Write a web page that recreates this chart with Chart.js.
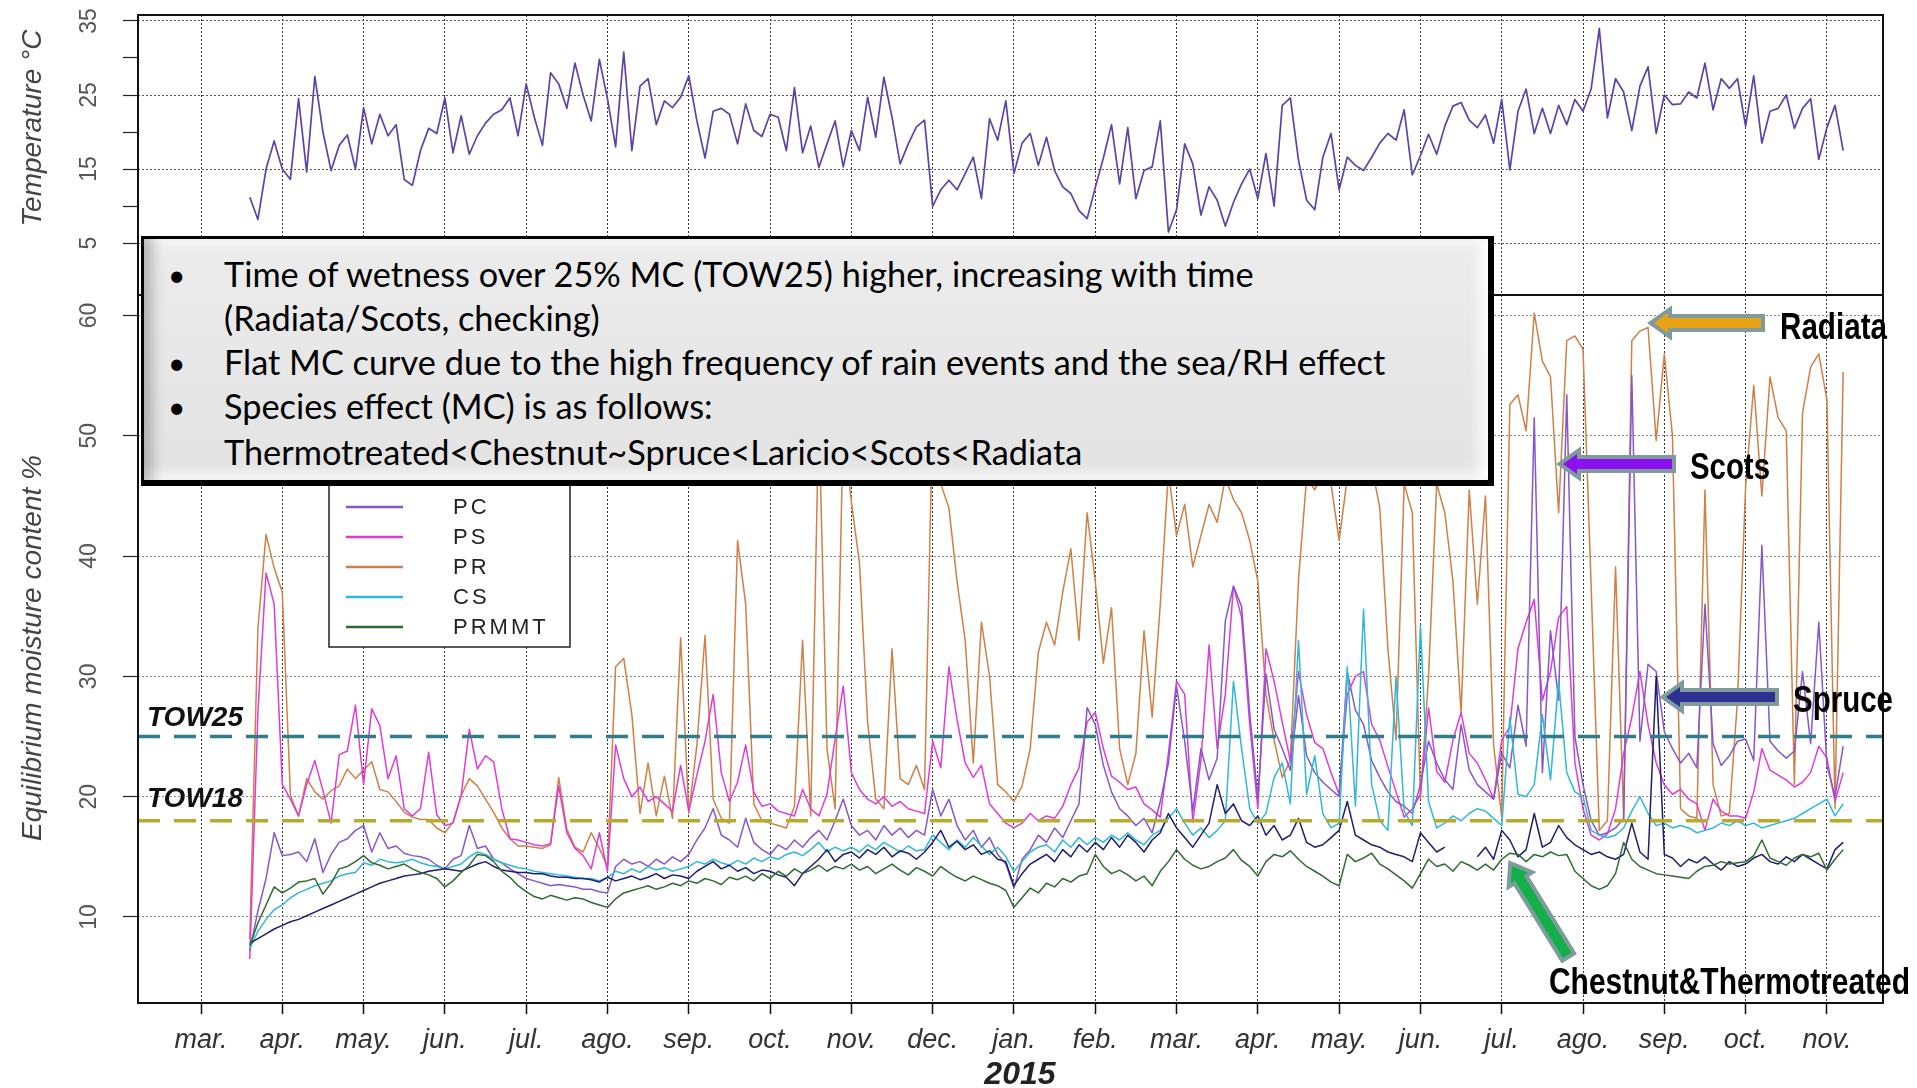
<!DOCTYPE html>
<html>
<head>
<meta charset="utf-8">
<title>Temperature and equilibrium moisture content</title>
<script src="https://cdn.jsdelivr.net/npm/chart.js@4.4.1/dist/chart.umd.min.js"></script>
<style>
  html, body { margin: 0; padding: 0; background: #fff; }
  body { width: 1917px; height: 1088px; position: relative; overflow: hidden; }
  canvas { position: absolute; left: 0; top: 0; }
  #note {
    position: absolute; left: 141px; top: 236px; width: 1353px; height: 250px;
    box-sizing: border-box;
    border: 3px solid #000; border-right-width: 6px; border-bottom-width: 6px;
    background: linear-gradient(180deg, #ececec 0%, #e3e3e3 100%);
    box-shadow: inset 16px 0 14px -8px rgba(0,0,0,0.25),
                inset 0 12px 10px -8px rgba(255,255,255,0.9),
                inset -18px -16px 14px -10px rgba(255,255,255,0.95);
  }
  .ln { position: absolute; left: 80px; font-family: Lato, "Open Sans", sans-serif; font-size: 34.3px;
        line-height: 44px; color: #000; white-space: nowrap; }
  .dot { position: absolute; left: -56px; font-size: 30px; }
  svg { position: absolute; left: 0; top: 0; }
  .tag { font-family: "Liberation Sans", Arial, sans-serif;
         font-weight: bold; font-size: 37px; fill: #000; }
</style>
</head>
<body>
<canvas id="tempChart" width="1917" height="300"></canvas>
<canvas id="mcChart" width="1917" height="1088"></canvas>

<div id="note">
  <div class="ln" style="top:13px"><span class="dot">•</span>Time of wetness over 25% MC (TOW25) higher, increasing with time</div>
  <div class="ln" style="top:57px">(Radiata/Scots, checking)</div>
  <div class="ln" style="top:101px"><span class="dot">•</span>Flat MC curve due to the high frequency of rain events and the sea/RH effect</div>
  <div class="ln" style="top:145px"><span class="dot">•</span>Species effect (MC) is as follows:</div>
  <div class="ln" style="top:191px">Thermotreated&lt;Chestnut~Spruce&lt;Laricio&lt;Scots&lt;Radiata</div>
</div>

<svg width="1917" height="1088">
  <g stroke="#7f9b9b" stroke-width="8" stroke-linejoin="miter" paint-order="stroke">
    <polygon transform="translate(1654,323)" points="0,0 14,-10 14,-5 107,-5 107,5 14,5 14,10" fill="#e8a317"/>
    <polygon transform="translate(1563,464)" points="0,0 14,-10 14,-5 109,-5 109,5 14,5 14,10" fill="#8b10f2"/>
    <polygon transform="translate(1666,697)" points="0,0 14,-10 14,-5 109,-5 109,5 14,5 14,10" fill="#2e3192"/>
    <polygon transform="translate(1512,866) rotate(58.3)" points="0,0 14,-10 14,-5 105,-5 105,5 14,5 14,10" fill="#13b04a"/>
  </g>
  <text class="tag" x="1780" y="339" textLength="107" lengthAdjust="spacingAndGlyphs">Radiata</text>
  <text class="tag" x="1690" y="479" textLength="80" lengthAdjust="spacingAndGlyphs">Scots</text>
  <text class="tag" x="1793" y="712" textLength="100" lengthAdjust="spacingAndGlyphs">Spruce</text>
  <text class="tag" x="1549" y="994" textLength="361" lengthAdjust="spacingAndGlyphs">Chestnut&amp;Thermotreated</text>
</svg>

<script>
// Eje x en meses: 0 = marzo 2014, 20 = noviembre 2015. Un dato cada 0.1 mes desde 0.6
const monthLabels = ['mar.', 'apr.', 'may.', 'jun.', 'jul.', 'ago.', 'sep.', 'oct.', 'nov.', 'dec.',
  'jan.', 'feb.', 'mar.', 'apr.', 'may.', 'jun.', 'jul.', 'ago.', 'sep.', 'oct.', 'nov.'];
const yearLabel = '2015';
const yearAt = 10;
const firstTenth = 6;

const tempTicks = [5, 15, 25, 35];
const mcTicks = [10, 20, 30, 40, 50, 60];
const towLevels = [25, 18];

// Temperatura (°C)
const temperature = [11.2, 8.2, 15.0, 18.8,
  15.0, 13.6, 24.5, 14.6, 27.5, 20.0, 14.8, 18.2, 19.6, 15.0,
  23.3, 18.4, 22.4, 19.5, 21.0, 13.6, 12.8, 17.5, 20.5, 19.8,
  24.6, 17.2, 22.2, 17.0, 19.5, 21.2, 22.4, 23.0, 24.6, 19.5,
  26.5, 22.0, 18.2, 28.0, 26.5, 23.2, 29.3, 25.0, 21.5, 29.8,
  24.5, 18.0, 30.8, 17.5, 26.2, 27.2, 21.0, 24.2, 23.3, 24.7,
  27.6, 21.5, 16.5, 22.8, 23.2, 22.4, 18.4, 23.8, 20.2, 19.4,
  22.4, 22.0, 17.5, 26.0, 17.2, 20.8, 15.2, 18.4, 21.5, 15.3,
  20.2, 17.5, 24.7, 19.3, 27.4, 22.0, 15.7, 18.4, 20.7, 21.6,
  10.0, 12.2, 13.5, 12.2, 14.4, 16.6, 11.0, 21.8, 18.9, 24.2,
  14.4, 18.5, 19.8, 15.5, 19.3, 14.8, 12.6, 11.7, 9.4, 8.3,
  12.5, 16.5, 21.0, 13.0, 20.6, 11.0, 14.8, 15.3, 21.5, 6.5,
  9.5, 18.4, 15.7, 8.8, 12.6, 10.8, 7.3, 10.5, 13.0, 15.0,
  11.0, 17.1, 10.0, 23.6, 24.6, 16.2, 10.8, 9.5, 16.6, 19.8,
  12.2, 16.6, 15.5, 14.8, 16.6, 18.5, 19.8, 18.9, 23.0, 14.2,
  16.8, 19.7, 17.0, 20.8, 23.5, 24.0, 21.6, 20.6, 22.3, 18.5,
  24.4, 14.9, 22.8, 25.8, 19.8, 23.2, 19.8, 23.6, 21.0, 24.4,
  22.8, 25.8, 34.0, 21.9, 27.2, 25.4, 20.2, 26.2, 28.8, 19.8,
  25.0, 23.7, 23.8, 25.4, 24.6, 29.3, 23.0, 27.2, 25.9, 27.2,
  20.8, 27.6, 18.5, 22.8, 23.2, 25.0, 20.5, 23.2, 24.5, 16.3,
  20.6, 23.6, 17.5];

// Contenido de humedad de equilibrio (%) por especie
const pa = [7.8, 8.2, 8.6, 9.0,
  9.3, 9.6, 9.8, 10.1, 10.4, 10.7, 11.0, 11.3, 11.6, 11.9,
  12.2, 12.5, 12.8, 13.0, 13.2, 13.4, 13.5, 13.6, 13.8, 13.9,
  14.0, 13.9, 13.8, 14.1, 14.4, 14.6, 14.2, 13.9, 13.8, 13.7,
  13.7, 13.6, 13.6, 13.4, 13.3, 13.3, 13.2, 13.2, 13.1, 12.9,
  13.3, 13.0, 13.2, 13.4, 13.1, 13.3, 13.6, 13.2, 13.5, 13.4,
  13.2, 13.8, 14.2, 14.6, 14.0, 14.3, 13.8, 14.1, 13.6, 13.9,
  13.8, 13.5, 13.3, 12.6, 13.6, 14.2, 14.8, 15.6, 14.6, 15.2,
  15.4, 14.9, 15.6, 15.2, 15.8, 15.0, 15.5, 15.3, 14.8, 15.4,
  16.2, 17.2, 15.8, 16.3, 15.6, 16.0, 15.2, 15.5, 14.8, 14.6,
  12.6, 13.6, 14.4, 14.8, 15.2, 14.6, 15.6, 15.0, 16.0, 15.4,
  16.2, 15.6, 16.6, 15.8, 16.8, 16.2, 15.4, 16.4, 17.0, 18.6,
  17.4, 16.6, 15.8, 16.8, 17.8, 21.0, 18.6, 19.4, 18.0, 17.6,
  18.4, 16.8, 17.6, 16.4, 16.8, 18.2, 16.2, 15.8, 16.0, 16.6,
  17.2, 19.6, 16.8, 16.4, 16.0, 15.8, 15.4, 15.2, 15.0, 14.6,
  17.0, 16.2, 15.4, 15.8, null, 15.6, null, 15.0, 15.8, 14.8,
  17.2, 16.4, 15.0, 15.6, 18.6, 15.8, 16.2, 17.6, 16.6, 16.0,
  15.6, 15.2, 15.4, 15.0, 14.8, 15.2, 17.8, 15.4, 14.8, 30.0,
  15.2, 14.9, 14.2, 14.8, 14.5, 15.0, 14.4, 13.9, 14.6, 14.2,
  14.4, 14.9, 15.2, 14.6, 14.4, 15.0, 14.6, 15.2, 14.8, 14.4,
  14.0, 15.6, 16.2];

const pc = [7.2, 10.5, 13.2, 17.0,
  15.1, 15.2, 15.4, 14.6, 16.5, 13.7, 15.2, 16.2, 16.5, 17.2,
  17.6, 15.4, 17.0, 15.7, 15.9, 15.3, 15.1, 15.0, 14.8, 14.3,
  14.0, 14.8, 15.1, 17.6, 15.7, 15.9, 14.8, 14.5, 14.0, 13.6,
  13.2, 13.0, 12.8, 12.6, 12.7, 12.6, 12.5, 12.3, 12.3, 12.1,
  12.0, 14.2, 14.8, 14.4, 14.6, 14.2, 14.8, 14.4, 15.0, 14.6,
  15.2, 16.4, 17.4, 19.0, 16.8, 16.4, 15.8, 18.2, 16.2, 15.6,
  15.2, 16.0, 15.6, 16.4, 15.8, 16.6, 17.2, 16.4, 18.0, 19.8,
  17.6, 16.8, 17.2, 16.4, 17.6, 16.8, 17.4, 16.6, 17.2, 16.8,
  20.6, 18.4, 19.8, 17.6, 16.4, 17.2, 15.8, 16.6, 15.2, 14.4,
  12.4, 14.8, 15.6, 16.8, 16.2, 17.4, 16.6, 18.0, 19.4, 27.4,
  26.0, 22.6, 20.4, 19.0, 18.4, 17.6, 18.2, 17.0, 19.6, 22.8,
  29.2, 24.6, 18.8, 24.0, 21.4, 23.2, 34.6, 37.5, 35.8, 27.0,
  19.8, 30.2, 25.6, 24.0, 22.2, 28.4, 23.4, 22.0, 21.2, 20.6,
  20.0, 30.4, 27.2, 26.0, 23.0, 21.6, 20.4, 19.6, 19.2, 18.6,
  21.0, 24.6, 22.8, 21.4, 20.6, 26.0, 22.2, 21.0, 20.4, 19.8,
  23.6, 22.4, 27.6, 24.2, 51.5, 22.0, 33.8, 28.0, 53.4, 25.0,
  21.0, 18.0, 16.8, 17.0, 17.4, 18.2, 55.0, 24.6, 31.0, 30.4,
  25.4, 24.0, 22.8, 23.6, 22.4, 36.0, 24.4, 22.6, 23.4, 24.6,
  24.8, 23.0, 40.9, 24.6, 23.8, 23.2, 23.8, 30.4, 24.4, 34.5,
  22.6, 20.0, 24.2];

const ps = [6.5, 27.0, 38.6, 36.0,
  21.0, 19.8, 18.4, 21.0, 23.0, 20.5, 17.8, 23.5, 23.8, 27.6,
  21.0, 27.3, 25.9, 21.5, 23.4, 19.0, 18.4, 19.0, 23.7, 18.5,
  17.6, 17.8, 20.1, 25.6, 22.3, 23.4, 22.9, 19.0, 16.5, 16.4,
  16.2, 16.0, 15.9, 16.1, 20.9, 17.0, 15.7, 15.1, 14.0, 17.0,
  13.8, 24.3, 21.5, 20.0, 20.8, 19.6, 20.0, 19.4, 18.8, 22.6,
  18.8, 21.8, 24.6, 28.5, 22.0, 19.6, 21.2, 24.3, 20.4, 19.2,
  19.4, 18.8, 18.6, 18.4, 20.6, 19.0, 18.4, 20.2, 24.8, 29.2,
  22.0, 20.6, 19.8, 19.4, 20.0, 19.2, 19.6, 19.0, 18.8, 18.6,
  24.6, 22.4, 30.8, 26.4, 22.8, 21.6, 22.6, 19.4, 18.6, 17.8,
  17.4, 17.8, 18.6, 18.0, 18.4, 18.2, 19.2, 21.0, 22.4, 26.2,
  27.0, 24.0, 21.7, 21.2, 20.6, 20.8, 19.4, 18.9, 18.3, 23.6,
  29.6, 28.5, 17.9, 23.0, 32.6, 24.0, 28.5, 37.5, 34.9, 26.0,
  19.0, 32.3, 29.6, 26.2, 23.0, 30.4, 26.8, 24.5, 24.0, 22.0,
  20.2, 28.5, 30.0, 30.4, 26.0, 24.7, 22.5, 20.4, 18.3, 19.0,
  20.2, 27.4, 22.1, 21.2, 24.7, 27.0, 23.6, 22.8, 21.4, 19.8,
  24.7, 25.8, 32.3, 34.5, 36.4, 28.0, 30.4, 34.9, 35.8, 22.8,
  19.0, 16.8, 16.4, 16.9, 19.0, 23.6, 26.6, 30.4, 26.0, 22.8,
  21.0, 20.2, 20.6, 19.8, 19.4, 17.2, 19.8, 18.8, 18.4, 18.4,
  18.2, 20.4, 24.0, 22.2, 21.8, 21.4, 20.8, 21.2, 22.0, 24.2,
  23.2, 19.6, 22.0];

const pr = [8.2, 34.0, 41.8, 39.0,
  37.0, 20.1, 18.4, 21.5, 20.4, 19.8, 20.5, 20.9, 22.3, 21.5,
  22.2, 22.9, 20.6, 20.4, 19.6, 18.7, 18.3, 18.1, 18.1, 17.4,
  17.0, 17.9, 20.1, 21.5, 20.9, 19.8, 18.7, 17.4, 16.5, 15.9,
  15.9, 15.8, 15.7, 16.0, 21.6, 17.3, 15.8, 15.4, 17.0, 15.7,
  14.2, 30.8, 31.5, 26.8, 18.6, 22.8, 18.4, 21.7, 18.2, 33.2,
  18.6, 24.3, 33.4, 19.8, 18.2, 17.8, 41.3, 36.0, 19.4, 18.0,
  17.8, 17.6, 17.4, 19.2, 33.0, 18.4, 52.0, 24.0, 19.0, 51.0,
  44.5, 39.4, 26.2, 19.8, 19.0, 32.3, 21.5, 21.0, 22.6, 20.6,
  52.0, 46.0, 44.0, 37.9, 33.0, 22.8, 34.5, 30.0, 21.0, 20.4,
  19.6, 20.9, 24.0, 32.0, 34.5, 32.6, 37.0, 40.6, 33.0, 43.6,
  37.9, 31.1, 35.7, 24.0, 21.0, 23.6, 33.8, 26.6, 36.0, 47.0,
  41.7, 44.3, 39.1, 41.7, 44.3, 42.8, 46.5, 44.7, 43.6, 41.3,
  37.9, 28.5, 24.7, 21.6, 23.0, 38.0, 46.5, 45.5, 47.0, 46.0,
  41.3, 46.5, 47.0, 46.0, 47.5, 44.0, 32.3, 24.7, 46.0, 43.6,
  19.8, 30.0, 46.0, 43.6, 37.9, 27.0, 45.5, 36.0, 45.0, 24.3,
  18.3, 52.6, 53.4, 50.4, 60.2, 56.2, 54.9, 43.6, 57.9, 58.3,
  57.2, 37.5, 17.2, 18.0, 39.1, 18.2, 57.9, 58.7, 59.0, 49.6,
  56.8, 50.0, 19.0, 18.4, 18.2, 45.5, 21.0, 18.4, 18.6, 28.0,
  45.8, 54.2, 45.0, 54.9, 51.5, 50.4, 21.0, 51.9, 55.7, 56.8,
  53.0, 19.0, 55.3];

const cs = [7.4, 8.8, 9.8, 10.6,
  11.0, 11.6, 12.0, 12.3, 12.6, 12.8, 13.0, 13.4, 13.6, 13.7,
  14.5, 14.3, 14.8, 14.6, 14.5, 14.6, 14.8, 14.5, 14.3, 14.2,
  14.0, 14.2, 14.4, 15.0, 15.4, 15.2, 14.8, 14.5, 14.3, 14.1,
  14.0, 13.8, 13.7, 13.6, 13.5, 13.4, 13.3, 13.2, 13.2, 13.0,
  13.3, 13.8, 13.6, 14.0, 13.7, 14.2, 13.9, 14.1, 13.8, 14.0,
  14.2, 14.6, 14.4, 14.8, 14.5, 14.3, 14.7, 14.4, 14.9, 14.6,
  15.0, 14.8, 15.2, 15.4, 15.1, 15.6, 16.2, 15.4, 15.8, 15.5,
  15.8, 15.4, 16.0, 15.6, 16.2, 15.8, 15.4, 15.9, 15.5, 15.6,
  16.8, 16.2, 15.6, 16.4, 15.8, 16.6, 15.9, 15.2, 15.8, 15.0,
  13.8, 14.6, 15.4, 15.8, 16.0, 15.4, 16.4, 15.8, 16.6, 16.0,
  16.6, 16.2, 16.8, 16.4, 17.0, 16.4, 16.0, 16.8, 17.2, 18.2,
  19.0, 17.8, 16.8, 17.4, 16.6, 17.2, 18.0, 29.6, 24.0, 19.0,
  17.8, 18.6, 21.6, 22.8, 19.4, 33.0, 20.2, 23.4, 18.6, 17.4,
  17.8, 30.8, 19.2, 35.6, 21.0, 18.0, 17.2, 30.0, 18.8, 17.6,
  34.2, 19.6, 17.4, 17.8, 18.4, 18.0, 18.6, 19.0, 18.8, 18.2,
  17.6, 26.6, 20.2, 20.0, 21.0, 26.8, 21.4, 29.6, 22.0, 20.4,
  20.0, 17.2, 16.8, 16.6, 16.8, 17.4, 18.8, 20.0, 18.6, 17.6,
  17.8, 17.4, 17.6, 17.4, 17.0, 17.2, 17.4, 17.8, 17.6, 18.0,
  17.6, 17.8, 17.4, 17.6, 17.8, 18.0, 18.2, 18.6, 19.0, 19.4,
  19.8, 18.4, 19.4];

const prmmt = [7.6, 9.5, 11.0, 12.5,
  12.0, 12.4, 12.9, 13.0, 13.2, 11.9, 12.8, 14.0, 14.2, 14.6,
  15.1, 14.5, 14.3, 14.0, 14.2, 14.4, 14.0, 13.7, 13.5, 13.2,
  12.5, 13.0, 13.7, 14.3, 15.2, 15.1, 14.6, 13.8, 13.3, 12.6,
  12.1, 11.7, 11.5, 11.8, 11.6, 11.4, 11.6, 11.5, 11.2, 11.0,
  10.8, 11.5, 12.0, 12.2, 12.4, 12.6, 12.3, 12.5, 12.8, 12.6,
  13.0, 12.8, 13.2, 13.0, 12.7, 13.3, 13.1, 13.4, 13.0, 13.6,
  13.2, 13.8, 13.4, 14.0, 13.6, 13.9, 14.3, 13.8, 14.2, 14.0,
  14.4, 13.9, 14.2, 13.6, 14.0, 14.4, 13.9, 13.5, 14.1, 13.8,
  13.4, 14.2, 13.7, 13.3, 13.0, 13.4, 13.1, 12.8, 12.6, 12.2,
  10.8, 11.6, 12.4, 12.0, 12.8, 12.5, 13.2, 12.9, 13.4, 13.6,
  15.2, 14.2, 13.6, 13.9, 13.5, 13.0, 13.4, 12.6, 13.8, 14.6,
  15.6, 14.8, 14.3, 14.0, 14.2, 14.6, 14.9, 15.6, 14.7, 14.2,
  13.4, 14.6, 15.2, 15.0, 15.5, 14.8, 14.2, 13.8, 13.4, 12.9,
  12.6, 15.2, 14.6, 14.9, 15.3, 14.4, 14.0, 13.5, 13.0, 12.4,
  13.6, 14.8, 14.2, 14.4, 13.8, 14.6, 14.3, 13.9, 14.4, 13.9,
  14.8, 15.3, 15.2, 14.6, 15.2, 15.0, 15.4, 15.1, 15.2, 13.8,
  13.2, 12.6, 12.3, 12.6, 13.6, 16.2, 14.8, 14.2, 13.9, 13.6,
  13.5, 13.4, 13.3, 13.2, 13.8, 14.2, 14.3, 14.6, 14.4, 14.5,
  14.6, 15.1, 16.4, 14.9, 14.6, 14.3, 14.9, 15.2, 15.0, 15.3,
  13.9, 14.8, 15.6];

// Series en el orden de la leyenda (PA queda tapada por el recuadro)
const series = [
  { label: 'PA', values: pa },
  { label: 'PC', values: pc },
  { label: 'PS', values: ps },
  { label: 'PR', values: pr },
  { label: 'CS', values: cs },
  { label: 'PRMMT', values: prmmt }
];
const styles = {
  PA: { color: '#1e1e6e', order: 2 },
  PC: { color: '#8757c9', order: 4 },
  PS: { color: '#e03bd9', order: 5 },
  PR: { color: '#cf8048', order: 6 },
  CS: { color: '#2fb8d8', order: 3 },
  PRMMT: { color: '#2e6b2e', order: 1 }
};

[temperature, ...series.map(s => s.values)].forEach((a, i) => {
  if (a.length !== 197) console.error('serie ' + i + ' tiene ' + a.length + ' valores');
});

const xAt = i => (firstTenth + i) / 10;
const toPoints = vals => vals.map((v, i) => ({ x: xAt(i), y: v }));
const xMin = -0.775, xMax = 20.69;
const FONT = '"Liberation Sans", Arial, sans-serif';

// Marco negro alrededor del área de dibujo
const frame = {
  id: 'frame',
  afterDatasetsDraw(chart) {
    const { ctx, chartArea: a } = chart;
    ctx.save();
    ctx.strokeStyle = '#111';
    ctx.lineWidth = 2;
    ctx.strokeRect(a.left, a.top, a.right - a.left, a.bottom - a.top);
    ctx.restore();
  }
};

// Etiquetas del eje y giradas y título del eje, al estilo de R
const axisText = {
  id: 'axisText',
  afterDraw(chart, args, o) {
    const { ctx } = chart;
    const ys = chart.scales.y;
    ctx.save();
    ctx.textAlign = 'center';
    ctx.textBaseline = 'middle';
    ctx.fillStyle = '#555';
    ctx.font = '23px ' + FONT;
    o.values.forEach(v => {
      ctx.save();
      ctx.translate(90, ys.getPixelForValue(v));
      ctx.rotate(-Math.PI / 2);
      ctx.fillText(String(v), 0, 0);
      ctx.restore();
    });
    ctx.fillStyle = '#444';
    ctx.font = 'italic 28px ' + FONT;
    ctx.translate(33, o.titleY);
    ctx.rotate(-Math.PI / 2);
    ctx.fillText(o.title, 0, 0);
    ctx.restore();
  }
};

// Meses y año bajo el eje x
const monthAxis = {
  id: 'monthAxis',
  afterDraw(chart) {
    const { ctx, chartArea: a } = chart;
    const xs = chart.scales.x;
    ctx.save();
    ctx.textAlign = 'center';
    ctx.textBaseline = 'middle';
    ctx.fillStyle = '#333';
    ctx.font = 'italic 27px ' + FONT;
    monthLabels.forEach((l, i) => ctx.fillText(l, xs.getPixelForValue(i), a.bottom + 37));
    ctx.fillStyle = '#222';
    ctx.font = 'bold italic 32px ' + FONT;
    ctx.fillText(yearLabel, xs.getPixelForValue(yearAt) + 6, a.bottom + 72);
    ctx.restore();
  }
};

// Rótulos TOW y leyenda en caja
const towAndLegend = {
  id: 'towAndLegend',
  afterDatasetsDraw(chart) {
    const { ctx, chartArea: a } = chart;
    const ys = chart.scales.y;
    ctx.save();
    ctx.font = 'bold italic 28px ' + FONT;
    ctx.fillStyle = '#111';
    ctx.textBaseline = 'middle';
    ctx.fillText('TOW25', a.left + 9, ys.getPixelForValue(26.5));
    ctx.fillText('TOW18', a.left + 9, ys.getPixelForValue(19.8));

    ctx.fillStyle = '#fff';
    ctx.fillRect(329, 445, 241, 202);
    ctx.strokeStyle = '#222';
    ctx.lineWidth = 1.5;
    ctx.strokeRect(329, 445, 241, 202);
    ctx.font = '22px ' + FONT;
    ctx.letterSpacing = '3px';
    series.forEach((s, i) => {
      const y = 477 + 30 * i;
      ctx.strokeStyle = styles[s.label].color;
      ctx.lineWidth = 2.5;
      ctx.beginPath();
      ctx.moveTo(346, y);
      ctx.lineTo(403, y);
      ctx.stroke();
      ctx.fillStyle = '#222';
      ctx.fillText(s.label, 453, y + 1);
    });
    ctx.restore();
  }
};

const monthTicks = s => { s.ticks = monthLabels.map((_, i) => ({ value: i })); };

// Panel superior: temperatura
new Chart(document.getElementById('tempChart'), {
  type: 'line',
  data: {
    datasets: [{
      data: toPoints(temperature),
      borderColor: '#5f42a8',
      borderWidth: 1.7,
      borderJoinStyle: 'round',
      pointRadius: 0
    }]
  },
  options: {
    responsive: false,
    animation: false,
    events: [],
    layout: { padding: { top: 15, right: 34, left: 0, bottom: 0 } },
    plugins: {
      legend: { display: false },
      tooltip: { enabled: false },
      axisText: { values: tempTicks, title: 'Temperature °C', titleY: 128 }
    },
    scales: {
      x: {
        type: 'linear', min: xMin, max: xMax,
        afterBuildTicks: monthTicks,
        ticks: { display: false },
        grid: { color: '#333', lineWidth: 1, drawTicks: false },
        border: { display: false, dash: [2, 2] },
        afterFit: s => { s.height = 5; }
      },
      y: {
        min: -2, max: 35.8,
        afterBuildTicks: s => { s.ticks = [5, 10, 15, 20, 25, 30, 35].map(v => ({ value: v })); },
        ticks: { display: false },
        grid: {
          color: c => (c.tick && c.tick.value % 10 === 5) ? '#555' : 'rgba(0,0,0,0)',
          lineWidth: 1, tickLength: 15, tickColor: '#222', tickWidth: 1.2
        },
        border: { display: false, dash: [2, 2] },
        afterFit: s => { s.width = 138; }
      }
    }
  },
  plugins: [frame, axisText]
});

// Panel inferior: contenido de humedad
const mcDatasets = series.map(s => ({
  label: s.label,
  data: toPoints(s.values),
  borderColor: styles[s.label].color,
  borderWidth: 1.5,
  borderJoinStyle: 'round',
  pointRadius: 0,
  spanGaps: false,
  order: styles[s.label].order
}));
const towColors = ['#2f7d8c', '#b9aa2c'];
towLevels.forEach((lv, i) => {
  mcDatasets.push({
    label: 'TOW' + lv,
    data: [{ x: xMin, y: lv }, { x: xMax, y: lv }],
    borderColor: towColors[i],
    borderWidth: 3.5,
    borderDash: [22, 14],
    pointRadius: 0,
    order: 0
  });
});

new Chart(document.getElementById('mcChart'), {
  type: 'line',
  data: { datasets: mcDatasets },
  options: {
    responsive: false,
    animation: false,
    events: [],
    layout: { padding: { top: 295, right: 34, left: 0, bottom: 0 } },
    plugins: {
      legend: { display: false },
      tooltip: { enabled: false },
      axisText: { values: mcTicks, title: 'Equilibrium moisture content %', titleY: 648 }
    },
    scales: {
      x: {
        type: 'linear', min: xMin, max: xMax,
        afterBuildTicks: monthTicks,
        ticks: { display: false },
        grid: { color: '#333', lineWidth: 1, drawTicks: true, tickLength: 11, tickColor: '#111', tickWidth: 1.5 },
        border: { display: false, dash: [2, 2] },
        afterFit: s => { s.height = 85; }
      },
      y: {
        min: 2.85, max: 61.7,
        afterBuildTicks: s => { s.ticks = mcTicks.map(v => ({ value: v })); },
        ticks: { display: false },
        grid: { color: '#888', lineWidth: 1, tickLength: 15, tickColor: '#222', tickWidth: 1.2 },
        border: { display: false, dash: [2, 2] },
        afterFit: s => { s.width = 138; }
      }
    }
  },
  plugins: [towAndLegend, frame, axisText, monthAxis]
});
</script>
</body>
</html>
